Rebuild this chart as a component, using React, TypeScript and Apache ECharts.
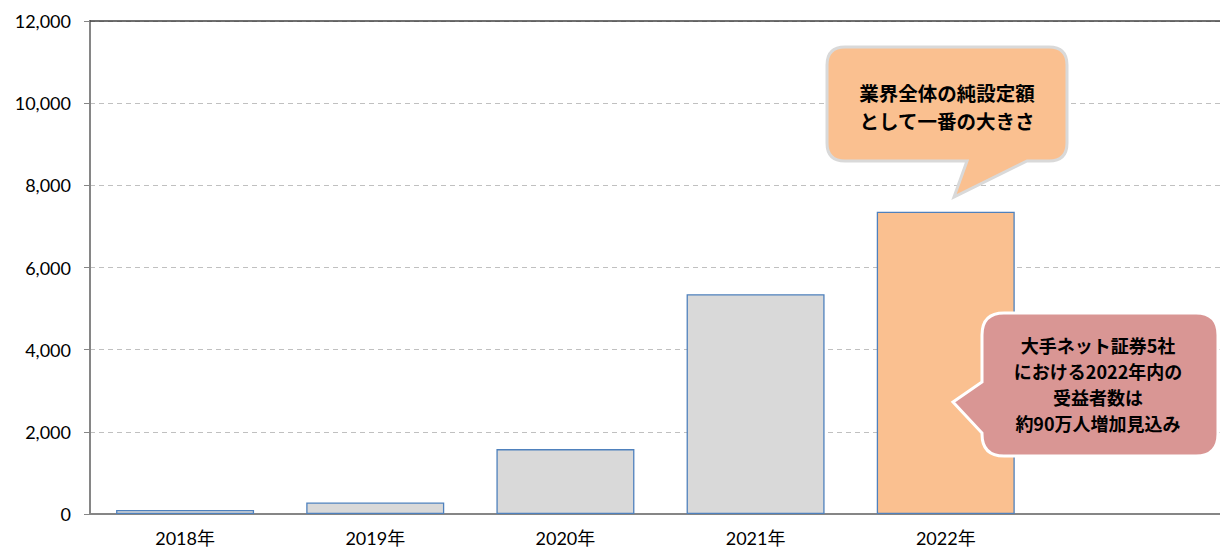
import React, { useEffect, useRef } from "react";
import * as echarts from "echarts";

const categories = ["2018年", "2019年", "2020年", "2021年", "2022年", ""];
const values = [100, 280, 1580, 5350, 7360, null];
const highlightIndex = 4;
const yTicks = { min: 0, max: 12000, interval: 2000 };
const note1 = ["業界全体の純設定額", "として一番の大きさ"];
const note2 = ["大手ネット証券5社", "における2022年内の", "受益者数は", "約90万人増加見込み"];

const bubble1 =
  "M845,47 L1049,47 Q1067,47 1067,65 L1067,143 Q1067,161 1049,161 L1027,161 L954,197 L967,161 L845,161 Q827,161 827,143 L827,65 Q827,47 845,47 Z";
const bubble2 =
  "M1004,313 L1196,313 Q1218,313 1218,335 L1218,434 Q1218,456 1196,456 L1004,456 Q982,456 982,434 L982,433 L953,402 L982,382 L982,335 Q982,313 1004,313 Z";

let registered = false;
function registerShapes() {
  if (registered) return;
  echarts.graphic.registerShape("bubbleA", echarts.graphic.extendPath(bubble1, {}) as any);
  echarts.graphic.registerShape("bubbleB", echarts.graphic.extendPath(bubble2, {}) as any);
  registered = true;
}

export default function App() {
  const ref = useRef<HTMLDivElement>(null);
  useEffect(() => {
    if (!ref.current) return;
    registerShapes();
    const chart = echarts.init(ref.current, null, { renderer: "svg" });
    const font = "Lato, 'Noto Sans CJK JP', sans-serif";
    const jp = "'Noto Sans CJK JP', sans-serif";
    chart.setOption({
      animation: false,
      grid: { left: 90, top: 21, bottom: 35, right: 9 },
      xAxis: [
        {
          type: "category",
          data: categories,
          boundaryGap: true,
          axisLine: { lineStyle: { color: "#868686", width: 2 } },
          axisTick: { interval: 2, length: 6, lineStyle: { color: "#868686" } },
          axisLabel: { color: "#000", fontFamily: font, fontSize: 18, margin: 15, interval: 0 },
        },
        {
          type: "category",
          data: categories,
          position: "top",
          axisLine: { show: true, lineStyle: { color: "#404040", width: 1.5 } },
          axisTick: { show: false },
          axisLabel: { show: false },
        },
      ],
      yAxis: {
        type: "value",
        min: yTicks.min,
        max: yTicks.max,
        interval: yTicks.interval,
        axisLine: { show: true, lineStyle: { color: "#868686", width: 2 } },
        axisTick: { show: true, length: 6, lineStyle: { color: "#868686" } },
        axisLabel: {
          color: "#000",
          fontFamily: font,
          fontSize: 18,
          margin: 19,
          formatter: (v: number) => v.toLocaleString("en-US"),
        },
        splitLine: { lineStyle: { color: "#c0c0c0", type: [5, 4], width: 1.2 } },
      },
      series: [
        {
          type: "bar",
          barWidth: 138,
          data: values.map((v, i) =>
            i === highlightIndex
              ? { value: v, itemStyle: { color: "#fac090" } }
              : v
          ),
          itemStyle: { color: "#d9d9d9", borderColor: "#4f81bd", borderWidth: 1.3 },
        },
      ],
      graphic: [
        {
          type: "bubbleA",
          x: 0,
          y: 0,
          z: 100,
          style: { fill: "#fac090", stroke: "#d9d9d9", lineWidth: 3 },
        },
        {
          type: "text",
          x: 947,
          y: 106.5,
          z: 101,
          style: {
            text: note1.join("\n"),
            fill: "#000",
            font: `bold 19.5px ${jp}`,
            lineHeight: 28.5,
            textAlign: "center",
            textVerticalAlign: "middle",
          },
        },
        {
          type: "bubbleB",
          x: 0,
          y: 0,
          z: 100,
          style: { fill: "#d99694", stroke: "#ffffff", lineWidth: 3 },
        },
        {
          type: "text",
          x: 1098,
          y: 384,
          z: 101,
          style: {
            text: note2.join("\n"),
            fill: "#000",
            font: `bold 18px ${jp}`,
            lineHeight: 26.2,
            textAlign: "center",
            textVerticalAlign: "middle",
          },
        },
      ],
    });
    return () => chart.dispose();
  }, []);
  return (
    <div style={{ position: "absolute", left: 0, top: 0, width: 1220, height: 549, overflow: "hidden", background: "#fff" }}>
      <div ref={ref} style={{ width: 1240, height: 549 }} />
    </div>
  );
}
